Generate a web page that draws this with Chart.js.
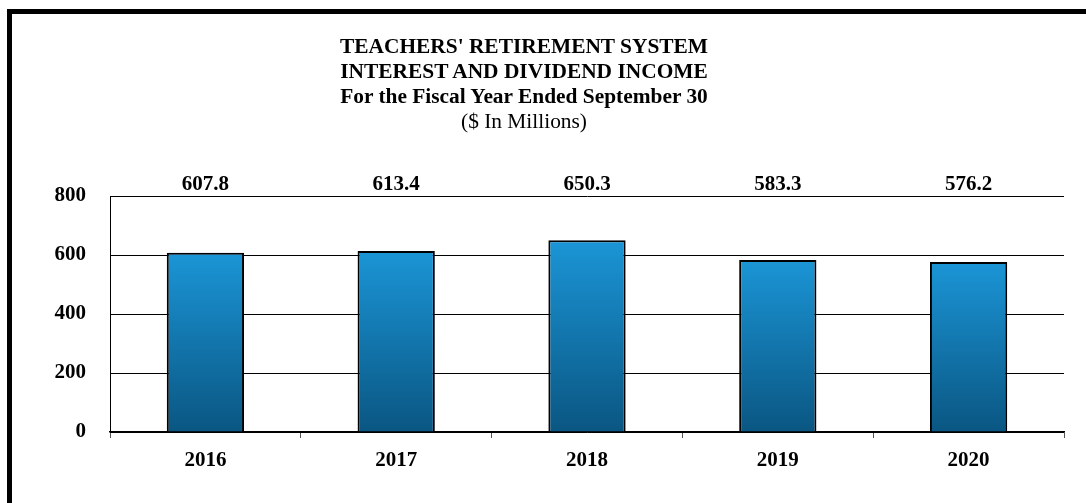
<!DOCTYPE html>
<html>
<head>
<meta charset="utf-8">
<script src="https://cdn.jsdelivr.net/npm/chart.js@4.4.1/dist/chart.umd.min.js"></script>
<style>
  html, body { margin: 0; padding: 0; background: #fff; }
  #wrap { position: relative; width: 1086px; height: 503px; overflow: hidden; }
  #frame { position: absolute; left: 7px; top: 9px; width: 1100px; height: 520px;
           border-left: 5px solid #000; border-top: 5px solid #000; }
  #title { position: absolute; left: 274px; width: 500px; top: 34px; text-align: center;
           font-family: 'Liberation Serif', 'Times New Roman', serif; font-size: 21.4px;
           line-height: 25px; color: #000; }
  #title b { font-weight: bold; }
  canvas { position: absolute; left: 0; top: 0; }
</style>
</head>
<body>
<div id="wrap">
  <div id="frame"></div>
  <canvas id="chart" width="1086" height="503"></canvas>
  <div id="title">
    <b>TEACHERS' RETIREMENT SYSTEM</b><br>
    <b>INTEREST AND DIVIDEND INCOME</b><br>
    <b>For the Fiscal Year Ended September 30</b><br>
    ($ In Millions)
  </div>
</div>
<script>
const years = ['2016', '2017', '2018', '2019', '2020'];
const income = [607.8, 613.4, 650.3, 583.3, 576.2];
const yTicks = [0, 200, 400, 600, 800];

const serif = "'Liberation Serif', 'Times New Roman', serif";

// value printed in a row above the plot
const valueRow = {
  id: 'valueRow',
  afterDatasetsDraw(chart) {
    const { ctx } = chart;
    const meta = chart.getDatasetMeta(0);
    ctx.save();
    ctx.font = 'bold 21px ' + serif;
    ctx.fillStyle = '#000';
    ctx.textAlign = 'center';
    ctx.textBaseline = 'middle';
    meta.data.forEach((bar, i) => {
      ctx.fillText(income[i].toFixed(1), bar.x, 185);
    });
    ctx.restore();
  }
};

function barFill(c) {
  const chart = c.chart;
  const y = chart.scales.y;
  if (!y || c.raw === undefined) return '#1580c0';
  const top = y.getPixelForValue(c.raw);
  const base = y.getPixelForValue(0);
  if (!isFinite(top) || !isFinite(base)) return '#1580c0';
  const g = chart.ctx.createLinearGradient(0, top, 0, base);
  g.addColorStop(0, '#1b95d6');
  g.addColorStop(1, '#0a5682');
  return g;
}

new Chart(document.getElementById('chart'), {
  type: 'bar',
  data: {
    labels: years,
    datasets: [{
      data: income,
      backgroundColor: barFill,
      borderColor: '#000',
      borderWidth: 2,
      barPercentage: 0.81,
      categoryPercentage: 0.5
    }]
  },
  options: {
    responsive: false,
    animation: false,
    layout: { padding: { top: 196, right: 22, left: 0, bottom: 0 } },
    plugins: { legend: { display: false }, tooltip: { enabled: false } },
    scales: {
      x: {
        afterFit(s) { s.height = 71; },
        border: { color: '#000', width: 1.5 },
        grid: { offset: true, drawOnChartArea: false, color: '#555', tickLength: 6 },
        ticks: { color: '#000', padding: 10, font: { family: serif, size: 21, weight: 'bold' } }
      },
      y: {
        min: 0, max: 800,
        afterFit(s) { s.width = 110; },
        afterBuildTicks(s) { s.ticks = yTicks.map(v => ({ value: v })); },
        border: { color: '#000', width: 1 },
        grid: { color: '#000', lineWidth: 1, drawTicks: false },
        ticks: { color: '#000', padding: 24, font: { family: serif, size: 21, weight: 'bold' } }
      }
    }
  },
  plugins: [valueRow]
});
</script>
</body>
</html>
